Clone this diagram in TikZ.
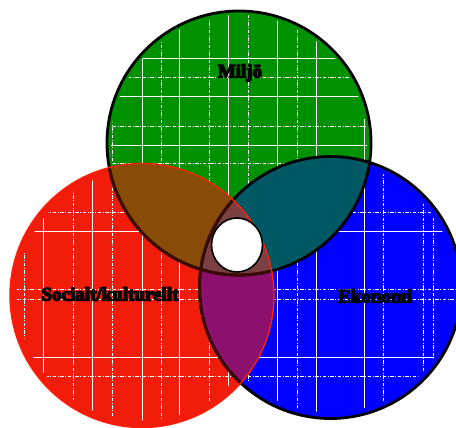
\documentclass[tikz,border=0pt]{standalone}
\usepackage{fontspec}
\setmainfont{Liberation Serif}
\newfontfamily\heavyfont[FakeBold=7]{Liberation Serif Bold}
\definecolor{cgreen}{RGB}{0,145,0}
\definecolor{cred}{RGB}{242,28,10}
\definecolor{cblue}{RGB}{0,0,255}
\definecolor{cbrown}{RGB}{136,76,8}
\definecolor{cteal}{RGB}{0,88,100}
\definecolor{cpurple}{RGB}{140,16,110}
\definecolor{cmauve}{RGB}{122,64,66}
\definecolor{cdark}{RGB}{60,10,5}
\definecolor{credline}{RGB}{255,30,10}
\begin{document}
\begin{tikzpicture}[x=1pt,y=-1pt,
  gridsolid/.style={white,line width=0.9pt},
  griddash/.style={white,line width=0.9pt,dash pattern=on 3.5pt off 1.5pt on 1pt off 1.5pt},
  outl/.style={black,line width=2.8pt},
  lbl/.style={font=\heavyfont\fontsize{19}{22}\selectfont,text=black,inner sep=0pt}]
\useasboundingbox[fill=white] (0,0) rectangle (456,428);
\coordinate (G) at (239,143);
\coordinate (R) at (142,295.5);
\coordinate (B) at (330.5,287.5);
% base fills
\fill[cgreen] (G) circle[radius=132pt];
\fill[cblue] (B) circle[radius=131pt];
\fill[cred] (R) circle[radius=132pt];
% grid
\begin{scope}
\clip (G) circle[radius=128pt] (R) circle[radius=125pt] (B) circle[radius=125pt];
\foreach \y in {58,96,145,231,357} \draw[gridsolid] (0,\y) -- (456,\y);
\foreach \y in {77,126,163,212,289,299,376,425} \draw[griddash] (0,\y) -- (456,\y);
\foreach \x in {43,92,142,179,228,277,316,364} \draw[gridsolid] (\x,0) -- (\x,428);
\foreach \x in {24,73,112,161,209,248,297,383,423,433} \draw[griddash] (\x,0) -- (\x,428);
\end{scope}
% lenses
\begin{scope}
\clip (G) circle[radius=132pt];
\fill[cbrown] (R) circle[radius=132pt];
\fill[cteal] (B) circle[radius=131pt];
\end{scope}
\begin{scope}
\clip (R) circle[radius=132pt];
\fill[cpurple] (B) circle[radius=131pt];
\end{scope}
\begin{scope}
\clip (G) circle[radius=132pt];
\clip (R) circle[radius=132pt];
\fill[cmauve] (B) circle[radius=131pt];
\end{scope}
% outlines
\draw[outl] (G) circle[radius=132pt];
\draw[outl] (B) circle[radius=131pt];
\begin{scope}
\clip (R) circle[radius=131pt];
\draw[outl,cdark] (G) circle[radius=132pt];
\draw[outl,cdark] (B) circle[radius=131pt];
\end{scope}
\draw[credline,line width=1.4pt] (R) circle[radius=132pt];
% centre
\draw[fill=white,line width=1.6pt] (237,245) ellipse[x radius=25.5pt,y radius=27pt];
% labels
\node[lbl] (miljo) at (240,73) {Miljö};
\node[lbl] (social) at (110,294) {Socialt/kulturellt};
\node[lbl] (ekonomi) at (375,296) {Ekonomi};
\end{tikzpicture}
\end{document}
